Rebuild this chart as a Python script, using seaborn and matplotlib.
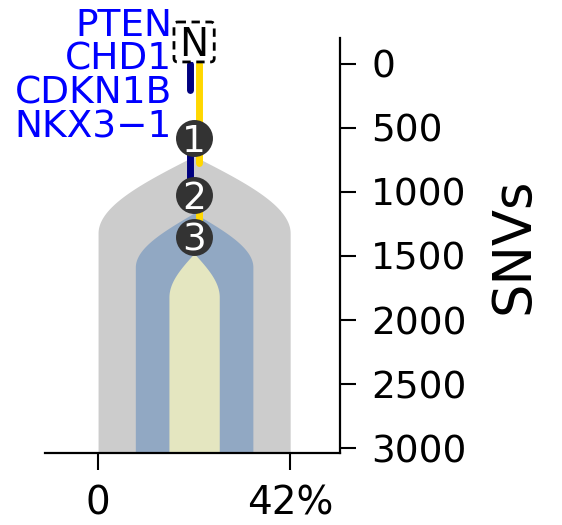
import numpy as np
import pandas as pd
import seaborn as sns
import matplotlib.pyplot as plt
from matplotlib.patches import FancyBboxPatch

# clones: cellular fraction (%), SNV count where the dome starts / turns vertical
clone_labels = ['1', '2', '3']
clone_fraction = [42.0, 25.7, 11.0]
clone_top = [720, 1164, 1480]
clone_shoulder = [1320, 1586, 1820]
clone_colors = ['#CCCCCC', '#91A8C3', '#E4E6C0']

# tree nodes (SNVs)
node_snvs = [578, 1023, 1352]
center = 21.0
normal_snvs = -172

# branch segments: (start, end) in SNVs
navy_segments = [(0, 200), (578, 1023)]
gold_segments = [(0, 777), (1023, 1352)]

genes = ['PTEN', 'CHD1', 'CDKN1B', 'NKX3\u22121']

x_ticks = [0, 42]
x_ticklabels = ['0', '42%']
y_ticks = [0, 500, 1000, 1500, 2000, 2500, 3000]

sns.set_style('ticks')
plt.rcParams['font.family'] = ['DejaVu Sans']
plt.rcParams['text.color'] = 'black'
plt.rcParams['axes.labelcolor'] = 'black'

fig = plt.figure(figsize=(5.62, 5.25), dpi=100)
ax = fig.add_axes([45 / 562, 1 - 453 / 525, 295 / 562, 415 / 525])

bottom = 3039
for frac, top, sh, col in zip(clone_fraction, clone_top, clone_shoulder, clone_colors):
    t = np.linspace(0, 1, 80)
    y = np.append(top + (sh - top) * t, bottom)
    half = np.append(frac / 2 * np.sin(np.pi / 2 * t), frac / 2)
    ax.fill_betweenx(y, center - half, center + half, color=col, lw=0, zorder=1)

# branches
rows = []
for name, segs, xpos in [('navy', navy_segments, center - 1), ('gold', gold_segments, center + 1)]:
    for i, (a, b) in enumerate(segs):
        rows.append({'x': xpos, 'snv': a, 'seg': f'{name}{i}', 'col': name})
        rows.append({'x': xpos, 'snv': b, 'seg': f'{name}{i}', 'col': name})
seg_df = pd.DataFrame(rows)
sns.lineplot(data=seg_df, x='x', y='snv', units='seg', hue='col', estimator=None,
             palette={'navy': '#000080', 'gold': '#FFD700'}, sort=False,
             lw=5, solid_capstyle='round', legend=False, ax=ax, zorder=3)

# nodes
sns.scatterplot(x=[center] * len(node_snvs), y=node_snvs, s=708, color='#333333',
                linewidth=0, zorder=5, ax=ax, legend=False)
for lab, v in zip(clone_labels, node_snvs):
    ax.annotate(lab, (center, v), xytext=(0, -9.9), textcoords='offset points',
                ha='center', va='baseline', color='white', fontsize=27, zorder=6)

# normal root
box = FancyBboxPatch((center - 4.4, normal_snvs - 156), 8.8, 312,
                     boxstyle='round,pad=0,rounding_size=0.8', mutation_aspect=35.5,
                     fc='white', ec='black', lw=2, ls=(0, (3, 2)),
                     zorder=6, clip_on=False)
ax.add_patch(box)
ax.annotate('N', (center, normal_snvs), xytext=(0, -10), textcoords='offset points',
            ha='center', va='baseline', color='black', fontsize=28, zorder=7,
            annotation_clip=False)

for i, g in enumerate(genes):
    ax.annotate(g, (16.2, normal_snvs), xytext=(0, 4.5 - 24.5 * i), textcoords='offset points',
                ha='right', va='baseline', color='#0000FF', fontsize=27,
                annotation_clip=False)

ax.set_xlim(-11.6, 52.9)
ax.set_ylim(bottom, -203)
ax.set_xticks(x_ticks)
ax.set_xticklabels(x_ticklabels)
ax.set_yticks(y_ticks)
ax.yaxis.tick_right()
ax.yaxis.set_label_position('right')
ax.set_ylabel('SNVs', fontsize=38, labelpad=15, color='black')
ax.set_xlabel('')

for s in ['top', 'left']:
    ax.spines[s].set_visible(False)
for s in ['right', 'bottom']:
    ax.spines[s].set_linewidth(1.6)
    ax.spines[s].set_color('black')
ax.tick_params(axis='y', labelsize=27, length=11.5, width=1.5, pad=11, colors='black')
ax.tick_params(axis='x', labelsize=28, length=12, width=1.5, pad=11, colors='black')

fig.savefig('out.png', dpi=100)
